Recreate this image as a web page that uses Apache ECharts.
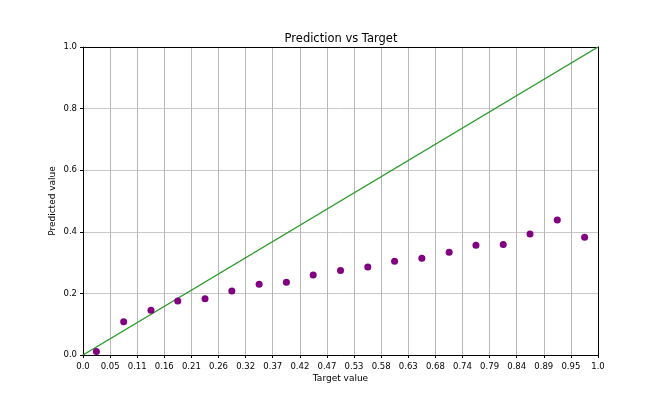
<!DOCTYPE html>
<html>
<head>
<meta charset="utf-8">
<script src="https://cdn.jsdelivr.net/npm/echarts@6/dist/echarts.min.js"></script>
<style>
    html, body { margin: 0; padding: 0; background: #fff; }
    #chart { width: 664px; height: 399px; }
</style>
</head>
<body>
<div id="chart"></div>
<script>
'use strict';

// values
var targetValues = [0.026, 0.079, 0.132, 0.184, 0.237, 0.289, 0.342, 0.395, 0.447, 0.500,
                    0.553, 0.605, 0.658, 0.711, 0.763, 0.816, 0.868, 0.921, 0.974];
var predictedValues = [0.011, 0.108, 0.145, 0.175, 0.183, 0.208, 0.230, 0.236, 0.260, 0.274,
                       0.286, 0.304, 0.314, 0.334, 0.356, 0.359, 0.393, 0.438, 0.382];
var idealX = [0, 1];
var idealY = [0, 1];
var xTickLabels = ['0.0', '0.05', '0.11', '0.16', '0.21', '0.26', '0.32', '0.37', '0.42', '0.47',
                   '0.53', '0.58', '0.63', '0.68', '0.74', '0.79', '0.84', '0.89', '0.95', '1.0'];
var yTickLabels = ['0.0', '0.2', '0.4', '0.6', '0.8', '1.0'];

var font = 'DejaVu Sans';
var textColor = '#000';

function zip(xs, ys) {
    return xs.map(function (x, i) { return [x, ys[i]]; });
}

// plain spine for the top / right side of the frame
function spine(position) {
    return {
        type: 'value',
        position: position,
        min: 0,
        max: 1,
        axisLine: { show: true, onZero: false, lineStyle: { color: '#000', width: 1 } },
        axisTick: { show: false },
        axisLabel: { show: false },
        splitLine: { show: false }
    };
}

var chart = echarts.init(document.getElementById('chart'), null, { renderer: 'canvas' });

var options = {
    animation: false,
    backgroundColor: '#fff',
    title: {
        text: 'Prediction vs Target',
        left: 336,
        top: 28,
        textAlign: 'center',
        textStyle: { fontFamily: font, fontSize: 11.5, fontWeight: 'normal', color: textColor }
    },
    grid: {
        left: 83,
        right: 66,
        top: 47,
        bottom: 44
    },
    xAxis: [{
        type: 'value',
        min: 0,
        max: 1,
        interval: 1 / 19,
        name: 'Target value',
        nameLocation: 'middle',
        nameGap: 19,
        nameMoveOverlap: false,
        nameTextStyle: { fontFamily: font, fontSize: 9, color: textColor },
        axisLine: { show: true, onZero: false, lineStyle: { color: '#000', width: 1 } },
        axisTick: { show: true, length: 3, lineStyle: { color: '#000' } },
        axisLabel: {
            fontFamily: font, fontSize: 8.5, color: textColor, margin: 7,
            showMinLabel: true, showMaxLabel: true,
            formatter: function (v) { return xTickLabels[Math.round(v * 19)]; }
        },
        splitLine: { show: true, lineStyle: { color: '#b8b8b8', width: 1 } }
    }, spine('top')],
    yAxis: [{
        type: 'value',
        min: 0,
        max: 1,
        interval: 0.2,
        name: 'Predicted value',
        nameLocation: 'middle',
        nameGap: 26,
        nameRotate: 90,
        nameMoveOverlap: false,
        nameTextStyle: { fontFamily: font, fontSize: 9, color: textColor },
        axisLine: { show: true, onZero: false, lineStyle: { color: '#000', width: 1 } },
        axisTick: { show: true, length: 3, lineStyle: { color: '#000' } },
        axisLabel: {
            fontFamily: font, fontSize: 8.5, color: textColor, margin: 6,
            formatter: function (v) { return yTickLabels[Math.round(v * 5)]; }
        },
        splitLine: { show: true, lineStyle: { color: '#c8c8c8', width: 1 } }
    }, spine('right')],
    series: [
        {
            type: 'line',
            data: zip(idealX, idealY),
            showSymbol: false,
            symbol: 'none',
            lineStyle: { color: '#229922', width: 1.4 },
            z: 3
        },
        {
            type: 'scatter',
            data: zip(targetValues, predictedValues),
            symbol: 'circle',
            symbolSize: 7,
            itemStyle: { color: '#800080', opacity: 1 },
            z: 4
        }
    ]
};

chart.setOption(options);
</script>
</body>
</html>
